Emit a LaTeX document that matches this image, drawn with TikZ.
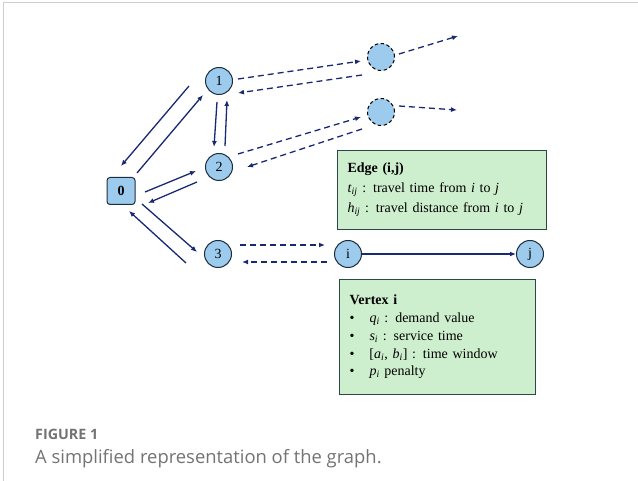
\documentclass[tikz,border=0pt]{standalone}
\usepackage{fontspec}
\setmainfont{Liberation Serif}
\newfontfamily\capfont{Open Sans}
\usetikzlibrary{positioning}
\usetikzlibrary{arrows.meta}
\usetikzlibrary{calc}

\definecolor{nodeblue}{RGB}{157,203,238}
\definecolor{nodeline}{RGB}{30,45,60}
\definecolor{arrowblue}{RGB}{25,40,115}
\definecolor{boxgreen}{RGB}{206,239,206}
\definecolor{boxline}{RGB}{45,70,70}
\definecolor{capgray}{RGB}{115,115,115}
\definecolor{framegray}{RGB}{205,205,205}

\begin{document}
\begin{tikzpicture}[x=1pt, y=-1pt,
    vertex/.style={circle, draw=nodeline, fill=nodeblue, line width=1pt, minimum size=27pt, inner sep=0pt, font=\fontsize{14}{14}\selectfont},
    depot/.style={rectangle, rounded corners=3pt, draw=nodeline, fill=nodeblue, line width=1pt, minimum width=28pt, minimum height=27pt, inner sep=0pt, font=\bfseries\fontsize{14}{14}\selectfont},
    ghost/.style={circle, draw=black, dash pattern=on 3.5pt off 2.5pt, fill=nodeblue, line width=1pt, minimum size=27pt, inner sep=0pt},
    infobox/.style={rectangle, draw=boxline, fill=boxgreen, line width=1pt, anchor=north west, align=left, inner xsep=10pt, inner ysep=0pt},
    link/.style={draw=arrowblue, line width=1.3pt, -{Latex[length=6pt,width=5pt]}},
    dlink/.style={link, dash pattern=on 6pt off 4pt},
]
    \useasboundingbox (0,0) rectangle (638,481);
    \draw[framegray, line width=1pt] (3,481) -- (3,3) -- (638,3);

    \node[depot] (N0) at (121,191) {0};
    \node[vertex] (N1) at (219,81) {1};
    \node[vertex] (N2) at (219,167) {2};
    \node[vertex] (N3) at (218,254) {3};

    \node[ghost] (D1) at (381,57) {};
    \node[ghost] (D2) at (381,112) {};
    \coordinate (out1) at ($(D1)+(77,-21)$);
    \coordinate (out2) at ($(D2)+(76,-2)$);

    \node[vertex] (Ni) at (348,254) {i};
    \node[vertex] (Nj) [right=154pt of Ni] {j};

    \node[infobox, text width=189pt, minimum height=79pt,
          font=\fontsize{14}{20}\selectfont] (edgebox) at (337,150)
        {\textbf{Edge (i,j)}\\
         \textit{t}\textsubscript{\textit{ij}} : travel time from \textit{i} to \textit{j}\\
         \textit{h}\textsubscript{\textit{ij}} : travel distance from \textit{i} to \textit{j}};

    \node[infobox, text width=176pt, minimum height=115pt,
          font=\fontsize{14}{17.7}\selectfont] (vertexbox) at (339,279)
        {\textbf{Vertex i}\\
         \makebox[20pt][l]{\textbullet}\textit{q}\textsubscript{\textit{i}} : demand value\\
         \makebox[20pt][l]{\textbullet}\textit{s}\textsubscript{\textit{i}} : service time\\
         \makebox[20pt][l]{\textbullet}[\textit{a}\textsubscript{\textit{i}}, \textit{b}\textsubscript{\textit{i}}] : time window\\
         \makebox[20pt][l]{\textbullet}\textit{p}\textsubscript{\textit{i}} penalty};

    \node[anchor=base west, inner sep=0pt, text=capgray,
          font=\capfont\bfseries\fontsize{14.3}{14.3}\selectfont] (figlabel) at (35,439) {FIGURE 1};
    \node[anchor=base west, inner sep=0pt, text=capgray,
          font=\capfont\fontsize{18.4}{18.4}\selectfont] (figcaption) at (35,463) {A simplified representation of the graph.};

    \draw[link] ($(N0)+(16,-18)$) -- ($(N1)+(-16,14)$);
    \draw[link] ($(N1)+(-30,5)$) -- ($(N0)+(0,-25)$);
    \draw[link] ($(N1)+(-2,21)$) -- ($(N2)+(-5,-20)$);
    \draw[link] ($(N2)+(6,-21)$) -- ($(N1)+(8,19)$);
    \draw[link] ($(N0)+(24,1)$) -- ($(N2)+(-23,4)$);
    \draw[link] ($(N2)+(-22,15)$) -- ($(N0)+(27,12)$);
    \draw[link] ($(N0)+(21,13)$) -- ($(N3)+(-21,-2)$);
    \draw[link] ($(N3)+(-32,9)$) -- ($(N0)+(8,20)$);

    \draw[dlink] ($(N1)+(19,-2)$) -- ($(D1)+(-20,4)$);
    \draw[dlink] ($(D1)+(-19,18)$) -- ($(N1)+(19,12)$);
    \draw[dlink] ($(D1)+(18,-3)$) -- (out1);
    \draw[dlink] ($(N2)+(19,-13)$) -- ($(D2)+(-20,5)$);
    \draw[dlink] ($(D2)+(-19,17)$) -- ($(N2)+(28,0)$);
    \draw[dlink] ($(D2)+(18,-6)$) -- (out2);
    \draw[dlink] ($(N3)+(22,-9)$) -- ($(Ni)+(-23,-9)$);
    \draw[dlink] ($(Ni)+(-21,8)$) -- ($(N3)+(24,8)$);

    \draw[link] (Ni.east) -- (Nj.west);
\end{tikzpicture}
\end{document}
